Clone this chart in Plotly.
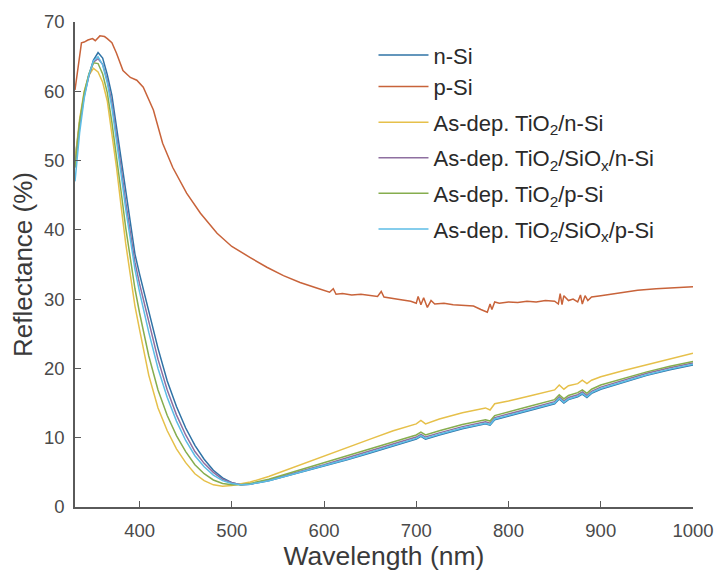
import plotly.graph_objects as go

# ---- data ----
wl = [330, 335, 340, 345, 350, 355, 360, 365, 370, 375, 380, 385, 390, 395, 400,
      410, 420, 430, 440, 450, 460, 470, 480, 490, 500, 510, 520, 540, 560, 580,
      600, 625, 650, 675, 700, 705, 710, 725, 750, 775, 780, 785, 800, 825, 850,
      855, 860, 865, 875, 880, 885, 890, 900, 925, 950, 975, 1000]

n_si = [50, 55.5, 59.5, 62.3, 64.5, 65.6, 64.8, 62.4, 59.4, 54.8, 50.1, 45.2, 40.5, 36.5, 33.6,
        28.2, 22.9, 18.2, 14.5, 11.4, 8.9, 6.9, 5.3, 4.2, 3.5, 3.2, 3.3, 3.8, 4.5, 5.2,
        5.9, 6.8, 7.8, 8.8, 9.8, 10.2, 9.8, 10.4, 11.3, 12.0, 11.8, 12.6, 13.1, 14.0, 14.9,
        15.6, 15.0, 15.5, 15.9, 16.3, 15.8, 16.4, 17.0, 18.0, 19.0, 19.8, 20.5]

tio2_n = [50, 56, 60, 62.3, 63.3, 62.8, 61.3, 58.6, 53.8, 49.0, 43.4, 38.0, 33.5, 29.0, 25.6,
          19.0, 14.3, 11.0, 8.4, 6.4, 4.8, 3.8, 3.2, 3.0, 3.1, 3.3, 3.6, 4.4, 5.4, 6.4,
          7.4, 8.6, 9.8, 11.0, 12.0, 12.5, 12.0, 12.7, 13.6, 14.3, 14.0, 14.9, 15.3, 16.1, 16.9,
          17.6, 17.0, 17.5, 17.8, 18.3, 17.8, 18.3, 18.8, 19.7, 20.5, 21.4, 22.2]

tio2_siox_n = [49, 55, 59.3, 62.2, 64.2, 64.7, 63.9, 61.6, 58.3, 53.8, 49.0, 44.0, 39.4, 35.3, 32.2,
               26.6, 21.3, 16.9, 13.3, 10.4, 8.0, 6.3, 5.0, 4.0, 3.5, 3.2, 3.3, 3.9, 4.6, 5.4,
               6.1, 7.1, 8.1, 9.1, 10.1, 10.5, 10.1, 10.7, 11.6, 12.3, 12.1, 12.9, 13.4, 14.3, 15.2,
               15.9, 15.3, 15.8, 16.2, 16.6, 16.1, 16.7, 17.3, 18.3, 19.3, 20.1, 20.8]

tio2_p = [49, 55.5, 59.8, 62.5, 64.1, 64.0, 62.5, 59.8, 55.5, 50.8, 45.5, 40.3, 35.7, 31.5, 28.0,
          21.8, 16.9, 13.2, 10.3, 8.0, 6.1, 4.8, 3.9, 3.4, 3.2, 3.2, 3.4, 4.0, 4.8, 5.6,
          6.4, 7.4, 8.4, 9.4, 10.4, 10.8, 10.4, 11.0, 11.9, 12.6, 12.4, 13.2, 13.7, 14.6, 15.5,
          16.2, 15.6, 16.1, 16.5, 16.9, 16.4, 17.0, 17.6, 18.6, 19.5, 20.3, 21.0]

tio2_siox_p = [47, 54, 59, 62.3, 64.4, 65.0, 63.8, 61.2, 57.6, 53.0, 48.0, 43.0, 38.4, 34.3, 31.0,
               25.2, 20.0, 15.8, 12.4, 9.6, 7.4, 5.8, 4.6, 3.8, 3.4, 3.2, 3.3, 3.8, 4.5, 5.2,
               6.0, 6.9, 7.9, 8.9, 9.9, 10.3, 9.9, 10.5, 11.4, 12.1, 11.9, 12.7, 13.2, 14.1, 15.0,
               15.7, 15.1, 15.6, 16.0, 16.4, 15.9, 16.5, 17.1, 18.1, 19.1, 19.9, 20.6]

wl_p = [330, 333, 337, 340, 344, 349, 352, 357, 362, 365, 370, 375, 382, 390, 397,
        404, 415, 425, 436, 451, 466, 484, 500, 520, 538, 556, 574, 592, 606, 610,
        613, 620, 630, 640, 650, 658, 662, 665, 680, 694, 700, 702, 705, 708, 712,
        716, 720, 730, 740, 750, 762, 770, 777, 780, 782, 785, 790, 800, 810, 820,
        830, 840, 850, 854, 856, 858, 860, 865, 870, 875, 878, 880, 883, 886, 890,
        900, 920, 940, 960, 980, 1000]
p_si = [60.2, 63, 67, 67.1, 67.4, 67.6, 67.3, 68, 67.9, 67.6, 67, 65.5, 63, 62, 61.6,
        60.6, 57.3, 52.5, 49, 45.3, 42.4, 39.5, 37.6, 36.0, 34.6, 33.4, 32.4, 31.6, 31.0, 31.5,
        30.7, 30.8, 30.6, 30.7, 30.5, 30.4, 31.1, 30.3, 30.0, 29.7, 29.4, 30.4, 29.2, 30.2, 28.8,
        29.8, 29.3, 29.4, 29.2, 29.1, 29.0, 28.5, 28.1, 29.3, 28.5, 29.6, 29.4, 29.6, 29.5, 29.7,
        29.6, 29.8, 29.7, 29.3, 30.8, 29.2, 30.5, 29.8, 30.0, 29.6, 30.6, 29.3, 30.5, 29.8, 30.3,
        30.5, 30.9, 31.3, 31.5, 31.7, 31.8]

x_ticks = [400, 500, 600, 700, 800, 900, 1000]
y_ticks = [0, 10, 20, 30, 40, 50, 60, 70]

series = [
    ("n-Si", wl, n_si, "#2f73a6", "g1"),
    ("p-Si", wl_p, p_si, "#c8633a", "g1"),
    ("As-dep. TiO<sub>2</sub>/n-Si", wl, tio2_n, "#e6c04a", "g2"),
    ("As-dep. TiO<sub>2</sub>/SiO<sub>x</sub>/n-Si", wl, tio2_siox_n, "#8e6fa0", "g3"),
    ("As-dep. TiO<sub>2</sub>/p-Si", wl, tio2_p, "#86ad4e", "g4"),
    ("As-dep. TiO<sub>2</sub>/SiO<sub>x</sub>/p-Si", wl, tio2_siox_p, "#5cbde6", "g5"),
]

fig = go.Figure()
for name, xs, ys, col, grp in series:
    fig.add_trace(go.Scatter(x=xs, y=ys, mode="lines", name=name, legendgroup=grp,
                             line=dict(color=col, width=1.5)))

axis_col = "#5a5a5a"
fig.update_layout(
    width=715, height=571,
    margin=dict(l=75, r=22, t=22, b=64, autoexpand=False),
    paper_bgcolor="white", plot_bgcolor="white",
    font=dict(family="Liberation Sans, Arial, sans-serif", color="#333333"),
    showlegend=True,
    legend=dict(x=0.483, y=0.975, xanchor="left", yanchor="top",
                bgcolor="rgba(0,0,0,0)", font=dict(size=22, color="#2a2a2a"),
                itemwidth=50, tracegroupgap=4, groupclick="toggleitem"),
    xaxis=dict(range=[330, 1000], tickvals=x_ticks, ticks="inside", ticklen=6,
               tickwidth=1.2, tickcolor=axis_col, showline=True, linecolor=axis_col,
               linewidth=1.5, showgrid=False, zeroline=False, automargin=False,
               ticklabelstandoff=6,
               tickfont=dict(size=18.5, color="#4a4a4a"),
               title=dict(text="Wavelength (nm)", font=dict(size=26.5, color="#3a3a3a"),
                          standoff=12)),
    yaxis=dict(range=[0, 70], tickvals=y_ticks, ticks="inside", ticklen=6,
               tickwidth=1.2, tickcolor=axis_col, showline=True, linecolor=axis_col,
               linewidth=1.5, showgrid=False, zeroline=False, automargin=False,
               ticklabelstandoff=5,
               tickfont=dict(size=18.5, color="#4a4a4a"),
               title=dict(text="Reflectance (%)", font=dict(size=26, color="#3a3a3a"),
                          standoff=4)),
)

fig.write_html("out.html")
